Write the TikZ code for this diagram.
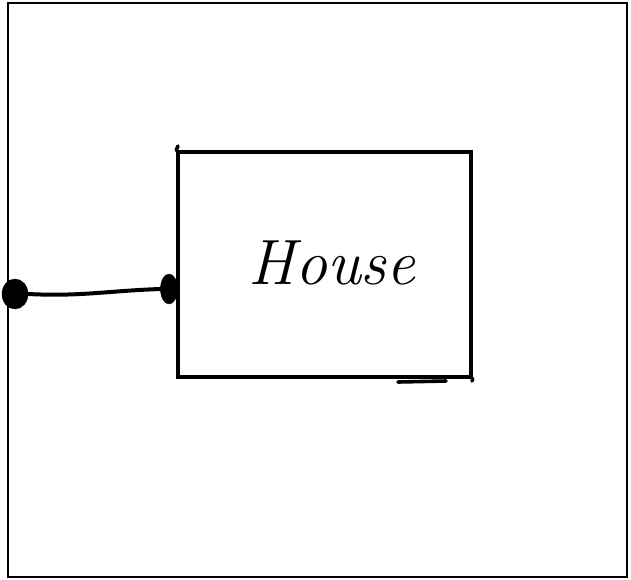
\documentclass[tikz,border=0pt]{standalone}
\usetikzlibrary{shapes.geometric}
\begin{document}
\begin{tikzpicture}[x=1pt,y=-1pt,
  frame/.style={draw=black,line width=2.2pt},
  housebox/.style={draw=black,line width=3.6pt,rectangle,minimum width=293pt,minimum height=225pt,inner sep=0pt},
  blob/.style={ellipse,fill=black,draw=black,inner sep=0pt},
  wire/.style={draw=black,line width=4pt,line cap=round},
  stroke/.style={draw=black,line width=3.6pt,line cap=round}]
\useasboundingbox (0,0) rectangle (631,580);
\draw[frame] (8,3) rectangle (627,577);
\node[housebox] (house) at (324.5,264.5) {};
\node[font=\fontsize{64}{66}\selectfont\itshape] (label) at (332,263) {House};
\node[blob,minimum width=26pt,minimum height=30pt] (ldot) at (15,294) {};
\node[blob,minimum width=17pt,minimum height=30pt] (rdot) at (169,289) {};
\draw[wire] (ldot.east) to[out=-3,in=182] (rdot.west);
\coordinate (ovA) at (178,146);
\coordinate (ovB) at (446,381);
\coordinate (ovC) at (398,382);
\coordinate (ovD) at (472,381);
\draw[stroke] (ovA) -- (house.north west);
\draw[stroke] (house.south east) -- (ovD);
\draw[stroke] (ovC) -- (ovB);
\end{tikzpicture}
\end{document}
